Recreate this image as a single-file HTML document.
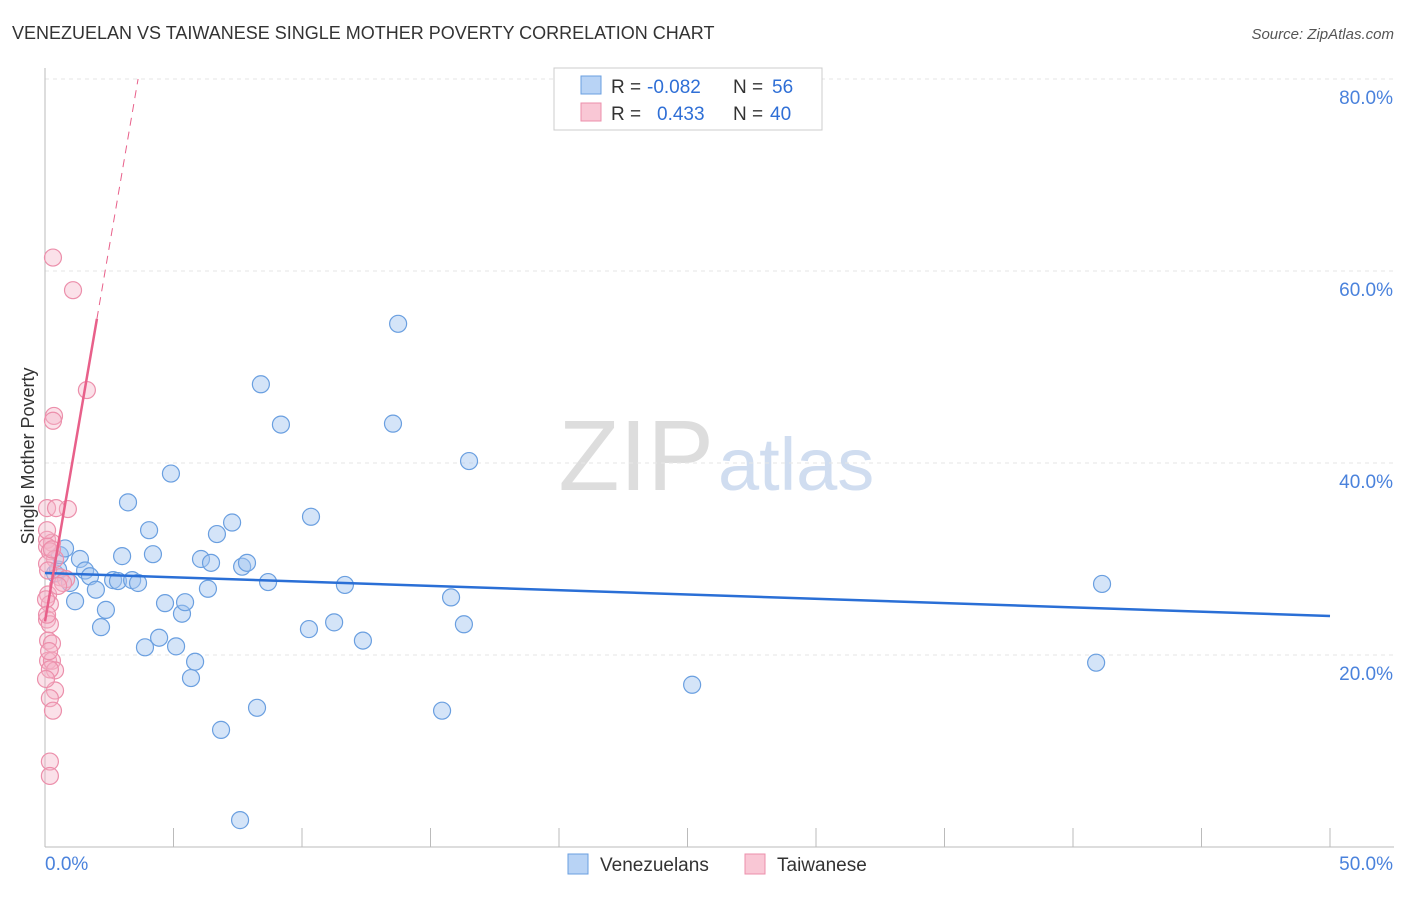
<!DOCTYPE html>
<html><head><meta charset="utf-8">
<style>
body{margin:0;background:#fff;font-family:"Liberation Sans",sans-serif;}
svg text{font-family:"Liberation Sans",sans-serif;}
</style></head>
<body>
<svg id="chart" width="1406" height="892" xmlns="http://www.w3.org/2000/svg">
<text x="12" y="39" font-size="18" fill="#333">VENEZUELAN VS TAIWANESE SINGLE MOTHER POVERTY CORRELATION CHART</text>
<text x="1394" y="39" font-size="15" fill="#555" text-anchor="end" font-style="italic">Source: ZipAtlas.com</text>
<text x="0" y="0" font-size="18" fill="#333" text-anchor="middle" transform="translate(34,456) rotate(-90)">Single Mother Poverty</text>
<text x="714" y="490" font-size="100" fill="#ddd" text-anchor="end" font-family="Liberation Serif">ZIP</text>
<text x="718" y="490" font-size="74" fill="#d0ddf0">atlas</text>
<g id="grid"></g><g id="axes"></g><g id="pts"></g><g id="lines"></g>
<g>
<rect x="554" y="68" width="268" height="62" fill="#fff" stroke="#ccc"/>
<rect x="581" y="76" width="20" height="18" fill="#b8d3f5" stroke="#6a9fe0"/>
<rect x="581" y="103" width="20" height="18" fill="#f9c7d5" stroke="#ec8fab"/>
<text x="611" y="93" font-size="19" fill="#333">R =</text>
<text x="647" y="93" font-size="19" fill="#2f6fd6">-0.082</text>
<text x="733" y="93" font-size="19" fill="#333">N =</text>
<text x="772" y="93" font-size="19" fill="#2f6fd6">56</text>
<text x="611" y="120" font-size="19" fill="#333">R =</text>
<text x="657" y="120" font-size="19" fill="#2f6fd6">0.433</text>
<text x="733" y="120" font-size="19" fill="#333">N =</text>
<text x="770" y="120" font-size="19" fill="#2f6fd6">40</text>
</g>
<g>
<rect x="568" y="854" width="20" height="20" fill="#b8d3f5" stroke="#6a9fe0"/>
<text x="600" y="871" font-size="19" fill="#333">Venezuelans</text>
<rect x="745" y="854" width="20" height="20" fill="#f9c7d5" stroke="#ec8fab"/>
<text x="777" y="871" font-size="19" fill="#333">Taiwanese</text>
</g>
</svg>
<script>
const yTicks=[20,40,60,80];
const yTickLabels=["20.0%","40.0%","60.0%","80.0%"];
const xLabels=["0.0%","50.0%"];
const blueX=[0.39,0.51,0.58,0.78,0.97,1.17,1.36,1.56,1.75,1.98,2.18,2.37,2.65,2.84,3.0,3.23,3.39,3.62,3.89,4.05,4.2,4.44,4.67,4.9,5.1,5.33,5.45,5.68,5.84,6.07,6.34,6.46,6.69,6.85,7.28,7.59,7.67,7.86,8.25,8.4,8.68,9.18,10.27,10.35,11.25,11.67,12.37,13.54,13.74,15.45,15.8,16.3,16.5,25.18,40.9,41.13];
const blueY=[28.5,28.9,30.4,31.1,27.5,25.6,30.0,28.8,28.2,26.8,22.9,24.7,27.8,27.7,30.3,35.9,27.8,27.5,20.8,33.0,30.5,21.8,25.4,38.9,20.9,24.3,25.5,17.6,19.3,30.0,26.9,29.6,32.6,12.2,33.8,2.8,29.2,29.6,14.5,48.2,27.6,44.0,22.7,34.4,23.4,27.3,21.5,44.1,54.5,14.2,26.0,23.2,40.2,16.9,19.2,27.4];
const pinkX=[0.31,1.09,1.63,0.35,0.31,0.08,0.89,0.43,0.08,0.27,0.08,0.19,0.39,0.58,0.82,0.7,0.12,0.19,0.08,0.19,0.12,0.27,0.12,0.27,0.39,0.19,0.39,0.19,0.31,0.19,0.19,0.08,0.12,0.27,0.08,0.51,0.04,0.08,0.16,0.04];
const pinkY=[61.4,58.0,47.6,44.9,44.4,35.3,35.2,35.3,32.0,31.7,31.3,30.8,30.0,28.1,27.9,27.5,26.3,25.3,23.7,23.2,21.5,21.2,19.4,19.4,18.4,18.5,16.3,15.5,14.2,8.9,7.4,29.5,28.8,31.0,33.0,27.2,25.8,24.2,20.4,17.5];
const blueTrend=[28.54,24.06];
const pinkTrend=[23.5,15.6];
const X=v=>45+v*25.7, Y=v=>847-v*9.6;
const NS="http://www.w3.org/2000/svg";
function mk(t,a,p){const e=document.createElementNS(NS,t);for(const k in a)e.setAttribute(k,a[k]);p.appendChild(e);return e;}
const grid=document.getElementById('grid'),axes=document.getElementById('axes'),pts=document.getElementById('pts'),lines=document.getElementById('lines');
yTicks.forEach((t,i)=>{
 const l=mk('line',{x1:45,x2:1394,y1:Y(t),y2:Y(t),stroke:'#e6e6e6','stroke-dasharray':'4,4'},grid);
 
 
 const tx=mk('text',{x:1393,y:Y(t)+25,'font-size':19,fill:'#4a82dc','text-anchor':'end'},axes);
 tx.textContent=yTickLabels[i];
 
 
});
const ax=mk('line',{x1:45,x2:45,y1:68,y2:847,stroke:'#bbb'},axes);


const xa=mk('line',{x1:45,x2:1394,y1:847,y2:847,stroke:'#bbb'},axes);


for(let i=0;i<=10;i++){const t=mk('line',{x1:X(i*5),x2:X(i*5),y1:828,y2:847,stroke:'#bbb'},axes);
 
 }
[[0,'start',45],[50,'end',1393]].forEach((d,i)=>{const t=mk('text',{x:d[2],y:870,'font-size':19,fill:'#4a82dc','text-anchor':d[1]},axes);t.textContent=xLabels[i];
 
 });
blueX.forEach((x,i)=>{const c=mk('circle',{cx:X(x),cy:Y(blueY[i]),r:8.5,fill:'rgba(160,196,240,0.45)',stroke:'#6a9fe0','stroke-width':1.2},pts);
 
 });
pinkX.forEach((x,i)=>{const c=mk('circle',{cx:X(x),cy:Y(pinkY[i]),r:8.5,fill:'rgba(246,180,200,0.4)',stroke:'#ec8fab','stroke-width':1.2},pts);
 
 });
const bl=mk('line',{x1:X(0),y1:Y(blueTrend[0]),x2:X(50),y2:Y(blueTrend[1]),stroke:'#2a6fd6','stroke-width':2.5},lines);


const xe=2.02,xd=(80-pinkTrend[0])/pinkTrend[1];
const pl=mk('line',{x1:X(0),y1:Y(pinkTrend[0]),x2:X(xe),y2:Y(pinkTrend[0]+pinkTrend[1]*xe),stroke:'#e8608a','stroke-width':2.5},lines);


const pd=mk('line',{x1:X(xe),y1:Y(pinkTrend[0]+pinkTrend[1]*xe),x2:X(xd),y2:Y(80),stroke:'#e8608a','stroke-width':1,'stroke-dasharray':'8,6'},lines);


</script>
</body></html>
